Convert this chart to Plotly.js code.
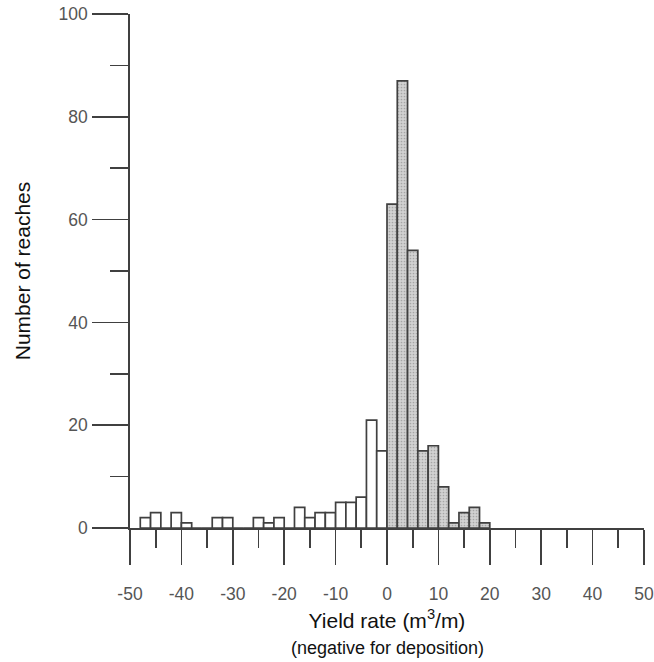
<!DOCTYPE html>
<html>
<head>
<meta charset="utf-8">
<script src="https://cdn.plot.ly/plotly-3.0.1.min.js"></script>
<style>html,body{margin:0;padding:0;background:#fff;}#chart{width:654px;height:662px;}</style>
</head>
<body>
<div id="chart"></div>
<script>
// Bin left edges (m3/m), bin width 2
var depositionBinStart = [-48,-46,-44,-42,-40,-38,-36,-34,-32,-30,-28,-26,-24,-22,-20,-18,-16,-14,-12,-10,-8,-6,-4,-2];
var depositionCounts   = [2,3,0,3,1,0,0,2,2,0,0,2,1,2,0,4,2,3,3,5,5,6,21,15];
var erosionBinStart = [0,2,4,6,8,10,12,14,16,18];
var erosionCounts   = [63,87,54,15,16,8,1,3,4,1];
var binWidth = 2;
var xTickVals = [-50,-40,-30,-20,-10,0,10,20,30,40,50];
var xTickText = ['-50','-40','-30','-20','-10','0','10','20','30','40','50'];
var yTickVals = [0,20,40,60,80,100];
var yTickText = ['0','20','40','60','80','100'];

function centers(arr){ return arr.map(function(v){ return v + binWidth/2; }); }

var lineCol = '#404040';
var traces = [
  {
    type: 'bar',
    x: centers(depositionBinStart),
    y: depositionCounts,
    width: binWidth,
    marker: {color: '#ffffff', line: {color: lineCol, width: 1.7}},
    hoverinfo: 'x+y',
    showlegend: false
  },
  {
    type: 'bar',
    x: centers(erosionBinStart),
    y: erosionCounts,
    width: binWidth,
    marker: {
      color: '#cfcfcf',
      line: {color: lineCol, width: 1.7},
      pattern: {shape: '.', bgcolor: '#d2d2d2', fgcolor: '#a6a6a6', size: 3, solidity: 0.25}
    },
    hoverinfo: 'x+y',
    showlegend: false
  }
];

var layout = {
  width: 654,
  height: 662,
  margin: {l: 130, r: 10, t: 14, b: 134},
  paper_bgcolor: '#ffffff',
  plot_bgcolor: '#ffffff',
  font: {family: 'Liberation Sans, Arial, sans-serif', size: 17.5, color: '#555555'},
  barmode: 'overlay',
  bargap: 0,
  xaxis: {
    range: [-50, 50],
    tickmode: 'array',
    tickvals: xTickVals,
    ticktext: xTickText,
    ticks: 'outside',
    ticklen: 35,
    tickwidth: 1.7,
    tickcolor: lineCol,
    ticklabelstandoff: 14,
    tickfont: {size: 17.5, color: '#555555'},
    minor: {dtick: 5, tick0: -50, ticks: 'outside', ticklen: 18, tickwidth: 1.7, tickcolor: lineCol, showgrid: false},
    showline: true,
    linecolor: lineCol,
    linewidth: 1.7,
    showgrid: false,
    zeroline: false,
    fixedrange: true,
    title: {text: 'Yield rate (m<sup>3</sup>/m)', font: {size: 21, color: '#111111'}, standoff: 10}
  },
  yaxis: {
    range: [0, 100],
    tickmode: 'array',
    tickvals: yTickVals,
    ticktext: yTickText,
    ticks: 'outside',
    ticklen: 36,
    tickwidth: 1.7,
    tickcolor: lineCol,
    ticklabelstandoff: 1,
    tickfont: {size: 17.5, color: '#555555'},
    minor: {dtick: 10, tick0: 0, ticks: 'outside', ticklen: 18, tickwidth: 1.7, tickcolor: lineCol, showgrid: false},
    showline: true,
    linecolor: lineCol,
    linewidth: 1.7,
    showgrid: false,
    zeroline: false,
    fixedrange: true,
    title: {text: 'Number of reaches', font: {size: 21, color: '#111111'}, standoff: 22}
  },
  annotations: [
    {
      text: '(negative for deposition)',
      xref: 'paper', yref: 'paper',
      x: 0.5, y: 0, yshift: -120,
      xanchor: 'center', yanchor: 'middle',
      showarrow: false,
      font: {size: 18, color: '#111111'}
    }
  ]
};

Plotly.newPlot('chart', traces, layout, {displayModeBar: false, staticPlot: true});
</script>
</body>
</html>
